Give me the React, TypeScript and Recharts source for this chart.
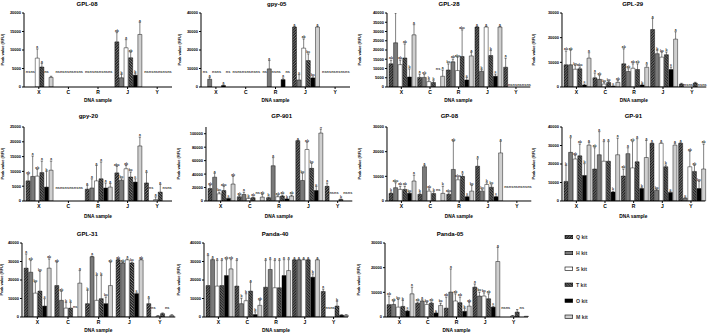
import React from 'react';
import { BarChart, Bar, XAxis, YAxis } from 'recharts';

const CATEGORIES = ['X', 'C', 'R', 'J', 'Y'];
const KITS = ['Q kit', 'H kit', 'S kit', 'T kit', 'O kit', 'M kit'];
const KEYS = ['Q', 'H', 'S', 'T', 'O', 'M'];

// rows = kits (Q, H, S, T, O, M), columns = DNA samples (X, C, R, J, Y); null = ns
const GPL08_VAL = [
  [null, null, null, 12200, null],
  [null, null, null, 2500, null],
  [7800, null, null, 10600, null],
  [5400, null, null, 7900, null],
  [null, null, null, 3200, null],
  [2600, null, null, 14200, null],
];
const GPL08_ERR = [
  [0, 0, 0, 2500, 0],
  [0, 0, 0, 900, 0],
  [2500, 0, 0, 2200, 0],
  [1000, 0, 0, 1500, 0],
  [0, 0, 0, 500, 0],
  [300, 0, 0, 3300, 0],
];
const GPL08_LET = [
  ['', '', '', 'ab', ''],
  ['', '', '', 'b', ''],
  ['a', '', '', 'a', ''],
  ['a', '', '', 'ab', ''],
  ['', '', '', 'b', ''],
  ['', '', '', 'a', ''],
];
const GPL08_NS = [3900, 3900, 3900, 3900, 3900];
const GPL08_TICKS = [0, 5000, 10000, 15000, 20000];

const GPY05_VAL = [
  [null, null, null, 32400, null],
  [4200, null, 9800, 3800, null],
  [null, null, null, 21000, null],
  [null, null, null, 14300, null],
  [800, null, 4000, 4900, null],
  [null, null, null, 32400, null],
];
const GPY05_ERR = [
  [0, 0, 0, 300, 0],
  [1000, 0, 4500, 2900, 0],
  [0, 0, 0, 5000, 0],
  [0, 0, 0, 3600, 0],
  [400, 0, 900, 600, 0],
  [0, 0, 0, 300, 0],
];
const GPY05_LET = [
  ['', '', '', 'a', ''],
  ['a', '', 'a', 'c', ''],
  ['', '', '', 'ab', ''],
  ['', '', '', 'bc', ''],
  ['a', '', 'a', 'bc', ''],
  ['', '', '', 'a', ''],
];
const GPY05_NS = [7400, 7400, 7400, 7400, 7400];
const GPY05_TICKS = [0, 10000, 20000, 30000, 40000];

const GPL28_VAL = [
  [12500, 5200, 9200, 32400, 10700],
  [23900, 5200, 13600, 8500, null],
  [12100, 2900, 8900, 32400, null],
  [15700, 2400, 16500, 17000, null],
  [5400, null, 3800, 5800, null],
  [28200, 5800, 16800, 32400, null],
];
const GPL28_ERR = [
  [2000, 1800, 3300, 300, 4900],
  [16100, 1500, 1500, 900, 0],
  [2500, 1000, 7200, 300, 0],
  [7600, 1000, 14400, 2700, 0],
  [4400, 0, 1400, 1200, 0],
  [5500, 3400, 2000, 300, 0],
];
const GPL28_LET = [
  ['ab', 'a', 'bc', 'a', 'a'],
  ['a', 'ab', 'ab', 'b', ''],
  ['ab', 'b', 'abc', 'a', ''],
  ['ab', 'b', 'abc', 'b', ''],
  ['b', '', 'c', 'c', ''],
  ['a', 'a', 'a', 'a', ''],
];
const GPL28_NS = [9200, 9200, 9200, 9200, 400];
const GPL28_TICKS = [0, 5000, 10000, 15000, 20000, 25000, 30000, 35000, 40000];

const GPL29_VAL = [
  [9000, 3700, 9400, 23300, 1200],
  [9000, 3100, 6300, 13500, null],
  [7200, 1200, 7600, 12100, null],
  [7400, 1800, 7100, 13100, 1600],
  [800, 300, 800, 7100, null],
  [11700, 1900, 8000, 19400, null],
];
const GPL29_ERR = [
  [5600, 2000, 6100, 4500, 300],
  [5900, 1500, 1100, 1400, 0],
  [1500, 700, 1800, 2000, 0],
  [700, 500, 2300, 1100, 300],
  [400, 200, 300, 1000, 0],
  [2200, 700, 1000, 3000, 0],
];
const GPL29_LET = [
  ['ab', 'a', 'ab', 'a', ''],
  ['ab', 'ab', 'ab', 'b', ''],
  ['bc', 'bc', 'ab', 'bc', ''],
  ['abc', 'bc', 'ab', 'b', ''],
  ['c', 'c', 'b', 'c', ''],
  ['a', 'ab', 'a', 'a', ''],
];
const GPL29_NS = [600, 600, 600, 600, 600];
const GPL29_TICKS = [0, 10000, 20000, 30000];

const GPY20_VAL = [
  [6800, null, 4000, 9500, 6100],
  [8300, null, 4400, 7000, null],
  [8400, null, 6800, 10900, 500],
  [9600, null, 7500, 8100, 3000],
  [4700, null, 4400, 6400, null],
  [10400, null, 4700, 18600, null],
];
const GPY20_ERR = [
  [2100, 0, 1300, 2200, 3500],
  [6900, 0, 3100, 500, 0],
  [2300, 0, 5200, 1100, 900],
  [3900, 0, 5700, 1700, 2600],
  [5300, 0, 1700, 1100, 0],
  [3100, 0, 1200, 3000, 0],
];
const GPY20_LET = [
  ['ab', '', 'a', 'abc', 'a'],
  ['a', '', 'a', 'bc', ''],
  ['ab', '', 'a', 'ab', 'a'],
  ['a', '', 'a', 'bc', 'a'],
  ['b', '', 'a', 'c', ''],
  ['a', '', 'a', 'a', ''],
];
const GPY20_NS = [3900, 3900, 3900, 3900, 3900];
const GPY20_TICKS = [0, 5000, 10000, 15000, 20000, 25000];

const GP901_VAL = [
  [18400, 6300, 4900, 89700, 21800],
  [35400, 9700, 52400, 30500, null],
  [10700, 3900, 6300, 76600, null],
  [15500, 4900, 7300, 48500, 2400],
  [3900, null, 3000, 15500, null],
  [25200, 5800, 7300, 101000, null],
];
const GP901_ERR = [
  [4900, 2000, 1000, 500, 4900],
  [5800, 3400, 12100, 10700, 0],
  [2400, 1000, 1500, 10700, 0],
  [6300, 1000, 1500, 7300, 500],
  [800, 0, 500, 6300, 0],
  [11200, 3900, 1500, 6000, 0],
];
const GP901_LET = [
  ['ab', 'ab', 'b', 'a', 'a'],
  ['a', 'a', 'a', 'bc', ''],
  ['bc', 'b', 'ab', 'ab', ''],
  ['abc', 'ab', 'ab', 'bc', 'b'],
  ['c', '', 'b', 'c', ''],
  ['ab', 'ab', 'ab', 'a', ''],
];
const GP901_NS = [10000, 10000, 10000, 10000, 11000];
const GP901_TICKS = [0, 20000, 40000, 60000, 80000, 100000];

const GP08_VAL = [
  [3100, 2700, 2700, 14100, null],
  [5400, 13900, 12800, 4000, null],
  [4700, 4000, 8600, 6700, null],
  [4700, 3000, 10000, 5600, null],
  [3100, null, 1700, 1700, null],
  [8100, 3100, 4000, 19500, null],
];
const GP08_ERR = [
  [600, 600, 600, 3000, 0],
  [2000, 500, 11400, 600, 0],
  [1300, 900, 800, 700, 0],
  [1300, 800, 1000, 1000, 0],
  [400, 0, 400, 300, 0],
  [2400, 2900, 2300, 4700, 0],
];
const GP08_LET = [
  ['b', 'b', 'abc', 'a', ''],
  ['abc', 'a', 'ab', 'bc', ''],
  ['ab', 'ab', 'abc', 'b', ''],
  ['ab', 'b', 'a', 'bc', ''],
  ['bc', '', 'c', 'c', ''],
  ['a', 'b', 'bc', 'a', ''],
];
const GP08_NS = [4000, 4000, 4000, 4000, 5100];
const GP08_TICKS = [0, 10000, 20000, 30000];

const GP91_VAL = [
  [10600, 17300, 13500, 31200, 31200],
  [26300, 25000, 25600, 5800, 1500],
  [22700, 21500, 17900, 31200, 18500],
  [24400, 21500, 21200, 18500, 16000],
  [13800, 4800, 6700, 4600, 6700],
  [30200, 25000, 23500, 30200, 17300],
];
const GP91_ERR = [
  [8600, 11500, 3800, 300, 300],
  [7900, 12500, 3200, 500, 300],
  [2000, 10600, 14200, 300, 8400],
  [6400, 10600, 12500, 1000, 3200],
  [6400, 500, 500, 600, 3900],
  [1500, 9000, 9200, 1000, 13500],
];
const GP91_LET = [
  ['b', 'ab', 'ab', 'a', 'a'],
  ['a', 'a', 'a', 'bc', 'c'],
  ['ab', 'a', 'ab', 'a', 'ab'],
  ['ab', 'a', 'a', 'b', 'ab'],
  ['b', 'b', 'b', 'c', 'bc'],
  ['a', 'a', 'a', 'a', 'ab'],
];
const GP91_NS = [4000, 4000, 4000, 4000, 4000];
const GP91_TICKS = [0, 10000, 20000, 30000, 40000];

const GPL31_VAL = [
  [26400, 17000, 7200, 30900, 7200],
  [24200, 9000, 32600, 29200, null],
  [12900, 4800, 9000, 30900, 500],
  [14000, 4800, 9900, 29200, 1800],
  [5900, null, 7200, 12600, null],
  [26400, 18300, 17000, 30900, 900],
];
const GPL31_ERR = [
  [7700, 12600, 7200, 300, 2700],
  [6300, 4800, 300, 300, 0],
  [5900, 3000, 13400, 500, 200],
  [10600, 3000, 12500, 500, 400],
  [4000, 0, 3600, 500, 0],
  [5000, 6800, 12600, 300, 300],
];
const GPL31_LET = [
  ['a', 'ab', 'b', 'ab', 'a'],
  ['ab', 'ab', 'a', 'ab', ''],
  ['bc', 'b', 'b', 'a', ''],
  ['bc', 'b', 'b', 'bc', ''],
  ['c', '', 'bc', 'c', ''],
  ['ab', 'a', 'ab', 'ab', ''],
];
const GPL31_NS = [5000, 5000, 5000, 5000, 4100];
const GPL31_TICKS = [0, 10000, 20000, 30000, 40000];

const PANDA40_VAL = [
  [17000, 16700, 16100, 30900, 13800],
  [31000, 7200, 25700, 30900, null],
  [16700, 8800, 15800, 30900, null],
  [17000, 14000, 15800, 30900, 5900],
  [22400, 1300, 22400, 21500, 1000],
  [26000, 6300, 25100, 30900, 1000],
];
const PANDA40_ERR = [
  [16200, 13800, 14400, 300, 1300],
  [500, 3000, 5300, 300, 0],
  [13800, 3800, 14700, 300, 0],
  [13500, 4800, 14700, 300, 2600],
  [8600, 1500, 8600, 1800, 200],
  [5000, 2700, 5900, 300, 200],
];
const PANDA40_LET = [
  ['a', 'a', 'a', 'a', 'a'],
  ['a', 'b', 'a', 'a', ''],
  ['a', 'b', 'a', 'a', ''],
  ['a', 'a', 'a', 'a', 'b'],
  ['ab', 'b', 'a', 'b', ''],
  ['ab', 'ab', 'a', 'a', ''],
];
const PANDA40_NS = [4100, 4100, 4100, 4100, 4100];
const PANDA40_TICKS = [0, 10000, 20000, 30000, 40000];

const PANDA05_VAL = [
  [5000, 5600, 3600, 12100, null],
  [5100, 6500, 10100, 8500, null],
  [4000, 5100, 6500, 8500, 400],
  [4300, 5600, 5800, 7400, 2000],
  [2400, 1600, 2300, 4000, null],
  [9400, 4700, 4400, 22500, 300],
];
const PANDA05_ERR = [
  [3500, 500, 4500, 1300, 0],
  [1300, 500, 9400, 1600, 0],
  [3100, 900, 2900, 1300, 200],
  [2400, 500, 2300, 2000, 1000],
  [400, 300, 1100, 400, 0],
  [2700, 900, 1600, 5700, 100],
];
const PANDA05_LET = [
  ['ab', 'ab', 'ab', 'a', ''],
  ['ab', 'a', 'a', 'bc', ''],
  ['bc', 'bc', 'ab', 'bc', ''],
  ['b', 'ab', 'ab', 'ab', ''],
  ['c', 'c', 'b', 'c', ''],
  ['a', 'bc', 'ab', 'a', ''],
];
const PANDA05_NS = [3100, 3100, 3100, 3100, 3100];
const PANDA05_TICKS = [0, 10000, 20000, 30000];

const FONT = '"Liberation Sans", Arial, sans-serif';
const ROW_TOP = [12.7, 126.7, 242.7];
const ROW_TITLE_Y = [4.3, 115.7, 233.7];
const ROW_XLABEL_Y = [100.7, 216, 330];
const PLOT_H = 74;

const FILLS: Record<string, string> = {
  Q: 'url(#hatchQ)',
  H: '#7a7a7a',
  S: '#ffffff',
  T: 'url(#hatchT)',
  O: '#000000',
  M: '#cfcfcf',
};

type Panel = {
  title: string;
  val: (number | null)[][];
  err: number[][];
  let: string[][];
  ns: number[];
  ticks: number[];
  yMax: number;
  row: number;
  axisX: number;
  endX: number;
  titleX: number;
  ylabX: number;
};

const PANELS: Panel[] = [
  { title: 'GPL-08', val: GPL08_VAL, err: GPL08_ERR, let: GPL08_LET, ns: GPL08_NS, ticks: GPL08_TICKS, yMax: 20000, row: 0, axisX: 24, endX: 172, titleX: 87, ylabX: 3 },
  { title: 'gpy-05', val: GPY05_VAL, err: GPY05_ERR, let: GPY05_LET, ns: GPY05_NS, ticks: GPY05_TICKS, yMax: 40000, row: 0, axisX: 201, endX: 350, titleX: 276.7, ylabX: 180 },
  { title: 'GPL-28', val: GPL28_VAL, err: GPL28_ERR, let: GPL28_LET, ns: GPL28_NS, ticks: GPL28_TICKS, yMax: 40000, row: 0, axisX: 386.7, endX: 530, titleX: 449, ylabX: 360 },
  { title: 'GPL-29', val: GPL29_VAL, err: GPL29_ERR, let: GPL29_LET, ns: GPL29_NS, ticks: GPL29_TICKS, yMax: 30000, row: 0, axisX: 561.7, endX: 706, titleX: 632.7, ylabX: 534 },
  { title: 'gpy-20', val: GPY20_VAL, err: GPY20_ERR, let: GPY20_LET, ns: GPY20_NS, ticks: GPY20_TICKS, yMax: 25000, row: 1, axisX: 24, endX: 172, titleX: 88.3, ylabX: 3 },
  { title: 'GP-901', val: GP901_VAL, err: GP901_ERR, let: GP901_LET, ns: GP901_NS, ticks: GP901_TICKS, yMax: 110000, row: 1, axisX: 205.7, endX: 352, titleX: 281.7, ylabX: 179 },
  { title: 'GP-08', val: GP08_VAL, err: GP08_ERR, let: GP08_LET, ns: GP08_NS, ticks: GP08_TICKS, yMax: 30000, row: 1, axisX: 386.7, endX: 531, titleX: 449.3, ylabX: 360 },
  { title: 'GP-91', val: GP91_VAL, err: GP91_ERR, let: GP91_LET, ns: GP91_NS, ticks: GP91_TICKS, yMax: 40000, row: 1, axisX: 561.7, endX: 705, titleX: 633.3, ylabX: 534 },
  { title: 'GPL-31', val: GPL31_VAL, err: GPL31_ERR, let: GPL31_LET, ns: GPL31_NS, ticks: GPL31_TICKS, yMax: 40000, row: 2, axisX: 21.7, endX: 175, titleX: 87.3, ylabX: 2 },
  { title: 'Panda-40', val: PANDA40_VAL, err: PANDA40_ERR, let: PANDA40_LET, ns: PANDA40_NS, ticks: PANDA40_TICKS, yMax: 40000, row: 2, axisX: 204, endX: 348, titleX: 275, ylabX: 179 },
  { title: 'Panda-05', val: PANDA05_VAL, err: PANDA05_ERR, let: PANDA05_LET, ns: PANDA05_NS, ticks: PANDA05_TICKS, yMax: 30000, row: 2, axisX: 385, endX: 528, titleX: 450, ylabX: 359 },
];

// draws the error whisker + letter, or "ns" when the kit gave no peak
const capShape = (k: string) => (props: any) => {
  const { x, y, width, height, payload } = props;
  if (x == null || y == null) return <g />;
  const cx = x + width / 2;
  if (payload[k + 'ns']) {
    return (
      <text x={cx} y={y} fontSize={3.9} fontFamily={FONT} fontWeight={700} fill="#333" textAnchor="middle">
        ns
      </text>
    );
  }
  const y0 = y + height;
  return (
    <g>
      {height > 0.3 && (
        <>
          <line x1={cx} x2={cx} y1={y0} y2={y} stroke="#000" strokeWidth={0.5} />
          <line x1={cx - width * 0.3} x2={cx + width * 0.3} y1={y} y2={y} stroke="#000" strokeWidth={0.5} />
        </>
      )}
      <text x={cx} y={y - 0.7} fontSize={3.3} fontFamily={FONT} fontWeight={700} fill="#222" textAnchor="middle">
        {payload[k + 'l']}
      </text>
    </g>
  );
};

const PanelChart: React.FC<{ p: Panel }> = ({ p }) => {
  const data = CATEGORIES.map((cat, i) => {
    const row: Record<string, any> = { cat };
    KEYS.forEach((k, j) => {
      const v = p.val[j][i];
      row[k] = v ?? 0;
      row[k + 'c'] = v == null ? p.ns[i] : p.err[j][i];
      row[k + 'ns'] = v == null;
      row[k + 'l'] = p.let[j][i];
    });
    return row;
  });
  const left = p.axisX - 30;
  const width = p.endX - p.axisX + 32;
  return (
    <div style={{ position: 'absolute', left, top: ROW_TOP[p.row] - 5, width, height: 99 }}>
      <BarChart
        width={width}
        height={99}
        data={data}
        margin={{ top: 5, right: 2, left: 0, bottom: 0 }}
        barCategoryGap="7%"
        barGap={0.6}
      >
        <XAxis
          dataKey="cat"
          height={20}
          interval={0}
          tickSize={2}
          tickMargin={1.5}
          stroke="#000"
          strokeWidth={1}
          tick={{ fontSize: 5, fontWeight: 700, fill: '#000', fontFamily: FONT }}
        />
        <YAxis
          width={30}
          domain={[0, p.yMax]}
          ticks={p.ticks}
          interval={0}
          allowDataOverflow
          tickSize={2}
          tickMargin={1}
          stroke="#000"
          strokeWidth={1}
          tick={{ fontSize: 4, fontWeight: 700, fill: '#000', fontFamily: FONT }}
        />
        {KEYS.flatMap((k) => [
          <Bar
            key={k}
            dataKey={k}
            stackId={k}
            fill={FILLS[k]}
            stroke="#000"
            strokeWidth={0.45}
            isAnimationActive={false}
          />,
          <Bar
            key={k + 'c'}
            dataKey={k + 'c'}
            stackId={k}
            fill="none"
            shape={capShape(k)}
            isAnimationActive={false}
          />,
        ])}
      </BarChart>
    </div>
  );
};

const LEGEND_Y = [237, 253, 268.7, 284.7, 300.7, 316.7];

export default function App() {
  return (
    <div style={{ position: 'absolute', left: 0, top: 0, width: 709, height: 334, background: '#fff', fontFamily: FONT }}>
      <svg width={709} height={334} style={{ position: 'absolute', left: 0, top: 0 }}>
        <defs>
          <pattern id="hatchQ" patternUnits="userSpaceOnUse" width="2.8" height="2.8">
            <rect width="2.8" height="2.8" fill="#1e1e1e" />
            <path d="M0,2.8 L2.8,0 M-0.7,0.7 L0.7,-0.7 M2.1,3.5 L3.5,2.1" stroke="#fff" strokeWidth="0.5" />
          </pattern>
          <pattern id="hatchT" patternUnits="userSpaceOnUse" width="2.8" height="2.8">
            <rect width="2.8" height="2.8" fill="#1e1e1e" />
            <path d="M0,0 L2.8,2.8 M-0.7,2.1 L0.7,3.5 M2.1,-0.7 L3.5,0.7" stroke="#fff" strokeWidth="0.5" />
          </pattern>
        </defs>
        {PANELS.map((p) => {
          const top = ROW_TOP[p.row];
          return (
            <g key={p.title}>
              <text x={p.titleX} y={ROW_TITLE_Y[p.row]} fontSize={6} fontWeight={700} textAnchor="middle" dominantBaseline="central">
                {p.title}
              </text>
              <text
                x={p.ylabX}
                y={top + PLOT_H / 2}
                fontSize={3.9}
                fontWeight={700}
                textAnchor="middle"
                dominantBaseline="central"
                transform={`rotate(-90 ${p.ylabX} ${top + PLOT_H / 2})`}
              >
                Peak value (RFU)
              </text>
              <text x={(p.axisX + p.endX) / 2} y={ROW_XLABEL_Y[p.row]} fontSize={4.8} fontWeight={700} textAnchor="middle" dominantBaseline="central">
                DNA sample
              </text>
            </g>
          );
        })}
        {KITS.map((kit, i) => (
          <g key={kit}>
            <rect x={565} y={LEGEND_Y[i] - 1.7} width={7.7} height={3.4} fill={FILLS[KEYS[i]]} stroke="#000" strokeWidth={0.6} />
            <text x={576} y={LEGEND_Y[i]} fontSize={5.2} fontWeight={700} fill="#333" dominantBaseline="central">
              {kit}
            </text>
          </g>
        ))}
      </svg>
      {PANELS.map((p) => (
        <PanelChart key={p.title} p={p} />
      ))}
    </div>
  );
}
